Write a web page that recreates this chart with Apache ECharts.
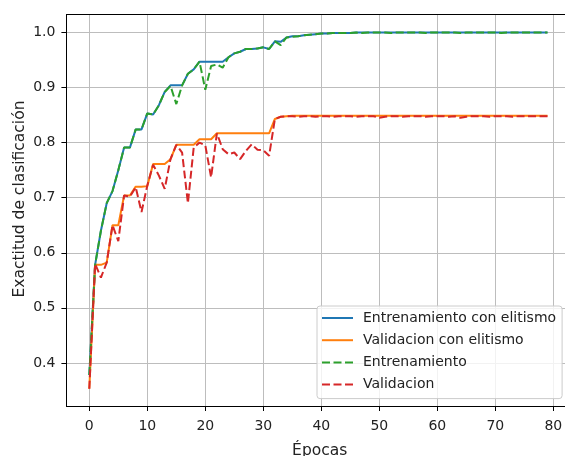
<!DOCTYPE html>
<html>
<head>
<meta charset="utf-8">
<script src="https://cdn.jsdelivr.net/npm/echarts@6/dist/echarts.min.js"></script>
<style>
html, body { margin: 0; padding: 0; background: #fff; overflow: hidden; }
#chart { width: 565px; height: 456px; }
</style>
</head>
<body>
<div id="chart"></div>
<script>
var epochs = [0, 1, 2, 3, 4, 5, 6, 7, 8, 9,
  10, 11, 12, 13, 14, 15, 16, 17, 18, 19,
  20, 21, 22, 23, 24, 25, 26, 27, 28, 29,
  30, 31, 32, 33, 34, 35, 36, 37, 38, 39,
  40, 41, 42, 43, 44, 45, 46, 47, 48, 49,
  50, 51, 52, 53, 54, 55, 56, 57, 58, 59,
  60, 61, 62, 63, 64, 65, 66, 67, 68, 69,
  70, 71, 72, 73, 74, 75, 76, 77, 78, 79];

var trainElitism = [0.378, 0.578, 0.640, 0.690, 0.712, 0.750, 0.791, 0.791, 0.824, 0.824,
  0.853, 0.851, 0.868, 0.892, 0.904, 0.904, 0.904, 0.925, 0.933, 0.947,
  0.947, 0.947, 0.947, 0.947, 0.955, 0.962, 0.965, 0.970, 0.970, 0.971,
  0.973, 0.970, 0.984, 0.983, 0.991, 0.993, 0.993, 0.995, 0.996, 0.997,
  0.998, 0.998, 0.999, 0.999, 0.999, 0.999, 1.000, 1.000, 1.000, 1.000,
  1.000, 1.000, 1.000, 1.000, 1.000, 1.000, 1.000, 1.000, 1.000, 1.000,
  1.000, 1.000, 1.000, 1.000, 1.000, 1.000, 1.000, 1.000, 1.000, 1.000,
  1.000, 1.000, 1.000, 1.000, 1.000, 1.000, 1.000, 1.000, 1.000, 1.000];

var valElitism = [0.353, 0.578, 0.578, 0.582, 0.650, 0.650, 0.704, 0.704, 0.720, 0.720,
  0.721, 0.761, 0.761, 0.761, 0.770, 0.796, 0.796, 0.796, 0.796, 0.806,
  0.806, 0.806, 0.817, 0.817, 0.817, 0.817, 0.817, 0.817, 0.817, 0.817,
  0.817, 0.817, 0.843, 0.847, 0.848, 0.849, 0.849, 0.849, 0.849, 0.849,
  0.849, 0.849, 0.849, 0.849, 0.849, 0.849, 0.849, 0.849, 0.849, 0.849,
  0.849, 0.849, 0.849, 0.849, 0.849, 0.849, 0.849, 0.849, 0.849, 0.849,
  0.849, 0.849, 0.849, 0.849, 0.849, 0.849, 0.849, 0.849, 0.849, 0.849,
  0.849, 0.849, 0.849, 0.849, 0.849, 0.849, 0.849, 0.849, 0.849, 0.849];

var train = [0.378, 0.578, 0.640, 0.690, 0.712, 0.750, 0.791, 0.791, 0.824, 0.824,
  0.853, 0.851, 0.868, 0.892, 0.903, 0.870, 0.904, 0.925, 0.933, 0.947,
  0.896, 0.939, 0.942, 0.936, 0.955, 0.962, 0.965, 0.970, 0.970, 0.971,
  0.973, 0.970, 0.984, 0.977, 0.991, 0.992, 0.993, 0.995, 0.996, 0.997,
  0.998, 0.998, 0.999, 0.999, 0.999, 0.999, 1.000, 0.999, 1.000, 1.000,
  1.000, 1.000, 0.999, 1.000, 1.000, 1.000, 1.000, 1.000, 0.999, 1.000,
  1.000, 1.000, 1.000, 1.000, 0.999, 1.000, 1.000, 1.000, 1.000, 1.000,
  1.000, 0.999, 1.000, 1.000, 1.000, 1.000, 1.000, 1.000, 1.000, 1.000];

var val = [0.353, 0.580, 0.555, 0.582, 0.650, 0.621, 0.704, 0.702, 0.719, 0.674,
  0.722, 0.760, 0.740, 0.716, 0.770, 0.796, 0.782, 0.690, 0.791, 0.800,
  0.795, 0.737, 0.817, 0.788, 0.779, 0.782, 0.770, 0.785, 0.797, 0.787,
  0.786, 0.776, 0.843, 0.847, 0.848, 0.848, 0.847, 0.848, 0.848, 0.847,
  0.848, 0.848, 0.847, 0.848, 0.848, 0.848, 0.847, 0.848, 0.848, 0.848,
  0.845, 0.847, 0.848, 0.848, 0.847, 0.848, 0.848, 0.848, 0.847, 0.848,
  0.848, 0.848, 0.847, 0.848, 0.845, 0.847, 0.848, 0.848, 0.848, 0.847,
  0.848, 0.848, 0.848, 0.847, 0.848, 0.848, 0.848, 0.848, 0.848, 0.848];

var seriesNames = ['Entrenamiento con elitismo', 'Validacion con elitismo', 'Entrenamiento', 'Validacion'];
var xTicks = [0, 10, 20, 30, 40, 50, 60, 70, 80];
var yTicks = [0.4, 0.5, 0.6, 0.7, 0.8, 0.9, 1.0];

function pairs(values) {
  return values.map(function (v, i) { return [epochs[i], v]; });
}

var font = 'DejaVu Sans';
var chart = echarts.init(document.getElementById('chart'), null, { renderer: 'canvas' });

function lineSeries(name, values, color, dashed) {
  return {
    name: name,
    type: 'line',
    data: pairs(values),
    symbol: 'none',
    showSymbol: false,
    color: color,
    lineStyle: { color: color, width: 2, type: dashed ? [8, 3.5] : 'solid' },
    emphasis: { disabled: true }
  };
}

// the original plot is cut by the right edge of the picture, so the
// visible x range stops a little before the axes' real right limit
var xMin = -3.95, xMax = 82.02;

chart.setOption({
  animation: false,
  backgroundColor: '#fff',
  grid: {
    left: 66.4, top: 14.7, right: 0, height: 391.3,
    outerBoundsMode: 'none',
    show: false
  },
  xAxis: [{
    type: 'value',
    min: xMin, max: xMax,
    name: 'Épocas',
    nameLocation: 'middle',
    nameGap: 37,
    nameTextStyle: { fontFamily: font, fontSize: 15.5, color: '#222', padding: [0, 0, 0, 8] },
    axisLine: { show: true, onZero: false, lineStyle: { color: '#000', width: 1 } },
    axisTick: { show: true, length: 5, customValues: xTicks, lineStyle: { color: '#000' } },
    axisLabel: { customValues: xTicks, fontFamily: font, fontSize: 14, color: '#222', margin: 13 },
    splitLine: { show: true, lineStyle: { color: '#bdbdbd', width: 1 } }
  }, {
    // top frame line
    type: 'value',
    position: 'top',
    min: xMin, max: xMax,
    axisLine: { show: true, onZero: false, lineStyle: { color: '#000', width: 1 } },
    axisTick: { show: false },
    axisLabel: { show: false },
    splitLine: { show: false }
  }],
  yAxis: {
    type: 'value',
    min: 0.3217, max: 1.0323,
    axisLine: { show: true, onZero: false, lineStyle: { color: '#000', width: 1 } },
    axisTick: { show: true, length: 5, customValues: yTicks, lineStyle: { color: '#000' } },
    axisLabel: {
      customValues: yTicks, fontFamily: font, fontSize: 14, color: '#222', margin: 11,
      formatter: function (v) { return v.toFixed(1); }
    },
    splitLine: { show: true, lineStyle: { color: '#bdbdbd', width: 1 } }
  },
  graphic: [{
    type: 'text',
    x: 20, y: 199,
    rotation: Math.PI / 2,
    style: {
      text: 'Exactitud de clasificación',
      font: '15.5px "DejaVu Sans"',
      fill: '#222',
      textAlign: 'center',
      textVerticalAlign: 'middle'
    }
  }],
  legend: {
    orient: 'vertical',
    left: 317, top: 306,
    data: seriesNames,
    itemWidth: 31, itemHeight: 16, itemGap: 6.2,
    padding: [4, 6, 6, 4],
    itemStyle: { opacity: 0 },
    backgroundColor: 'rgba(255,255,255,0.8)',
    borderColor: '#cccccc', borderWidth: 1, borderRadius: 3,
    textStyle: { fontFamily: font, fontSize: 14, color: '#222', lineHeight: 16, padding: [0, 0, 0, 5] }
  },
  series: [
    lineSeries(seriesNames[0], trainElitism, '#1f77b4', false),
    lineSeries(seriesNames[1], valElitism, '#ff7f0e', false),
    lineSeries(seriesNames[2], train, '#2ca02c', true),
    lineSeries(seriesNames[3], val, '#d62728', true)
  ]
});
</script>
</body>
</html>
